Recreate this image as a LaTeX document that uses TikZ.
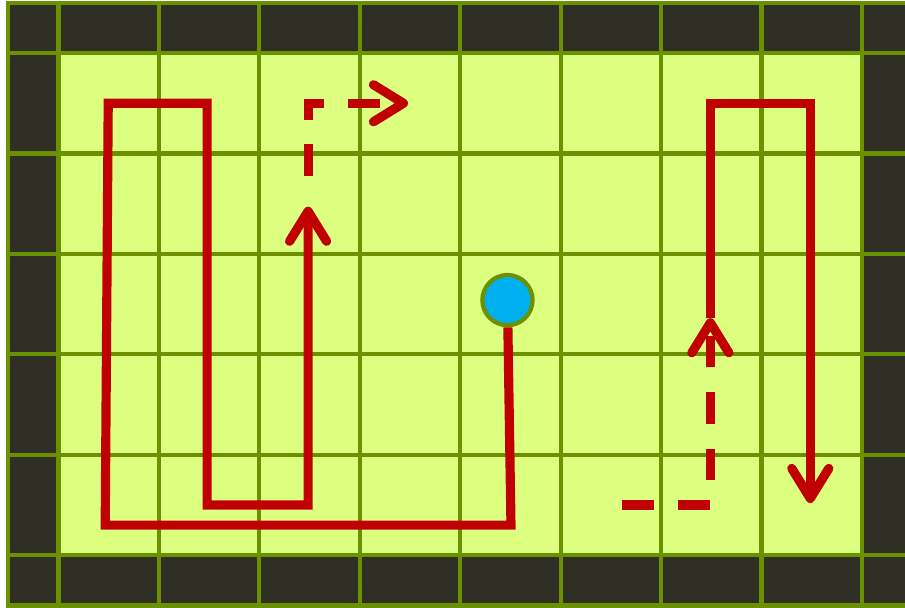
\documentclass[tikz,border=0pt]{standalone}
\usepackage{tikz}
\usepackage{xcolor}
\usetikzlibrary{arrows.meta}
\definecolor{FloorGreen}{HTML}{DDFF80}
\definecolor{WallDark}{HTML}{2F2F26}
\definecolor{LineOlive}{HTML}{6B9000}
\definecolor{PathRed}{HTML}{C00000}
\definecolor{BotBlue}{HTML}{00B0F0}
\begin{document}
\begin{tikzpicture}[>={Straight Barb[length=8.5pt,width=10.5pt,round]}]
      \tikzstyle{gridline}=[draw=LineOlive,line width=1.2pt]
      \tikzstyle{route}=[draw=PathRed,line width=2.6pt]
      \tikzstyle{ghost}=[route,dash pattern=on 9pt off 7pt]
      \tikzstyle{bot}=[circle,draw=LineOlive,line width=1.2pt,fill=BotBlue,minimum size=.5cm,inner sep=0pt]
      \useasboundingbox (-0.5825,-0.516) rectangle (8.428,5.528);
      % walls and floor
      \fill[WallDark] (-0.5,-0.5) rectangle (8.5,5.5);
      \fill[FloorGreen] (0,0) rectangle (8,5);
      \draw[gridline] (-0.5,-0.5) grid (8.5,5.5);
      \draw[gridline] (-0.5,-0.5) rectangle (8.5,5.5);
      % robot
      \node[bot] (bot) at (4.47,2.54) {};
      % left sweep
      \coordinate (a1) at (4.505,0.3);
      \coordinate (a2) at (0.465,0.3);
      \coordinate (a3) at (0.495,4.5);
      \coordinate (a4) at (1.48,4.5);
      \coordinate (a5) at (1.48,0.5);
      \coordinate (a6) at (2.485,0.5);
      \coordinate (a7) at (2.485,3.47);
      \coordinate (b1) at (2.485,3.775);
      \coordinate (b2) at (2.485,4.5);
      \coordinate (b3) at (3.48,4.5);
      \draw[route,->] (bot) -- (a1) -- (a2) -- (a3) -- (a4) -- (a5) -- (a6) -- (a7);
      \draw[ghost,->] (b1) -- (b2) -- (b3);
      % right sweep
      \coordinate (c1) at (5.61,0.5);
      \coordinate (c2) at (6.49,0.5);
      \coordinate (c3) at (6.49,2.36);
      \coordinate (c4) at (6.49,4.5);
      \coordinate (c5) at (7.485,4.5);
      \coordinate (c6) at (7.485,0.52);
      \draw[ghost,->] (c1) -- (c2) -- (c3);
      \draw[route,->] (c3) -- (c4) -- (c5) -- (c6);
    \end{tikzpicture}
\end{document}
